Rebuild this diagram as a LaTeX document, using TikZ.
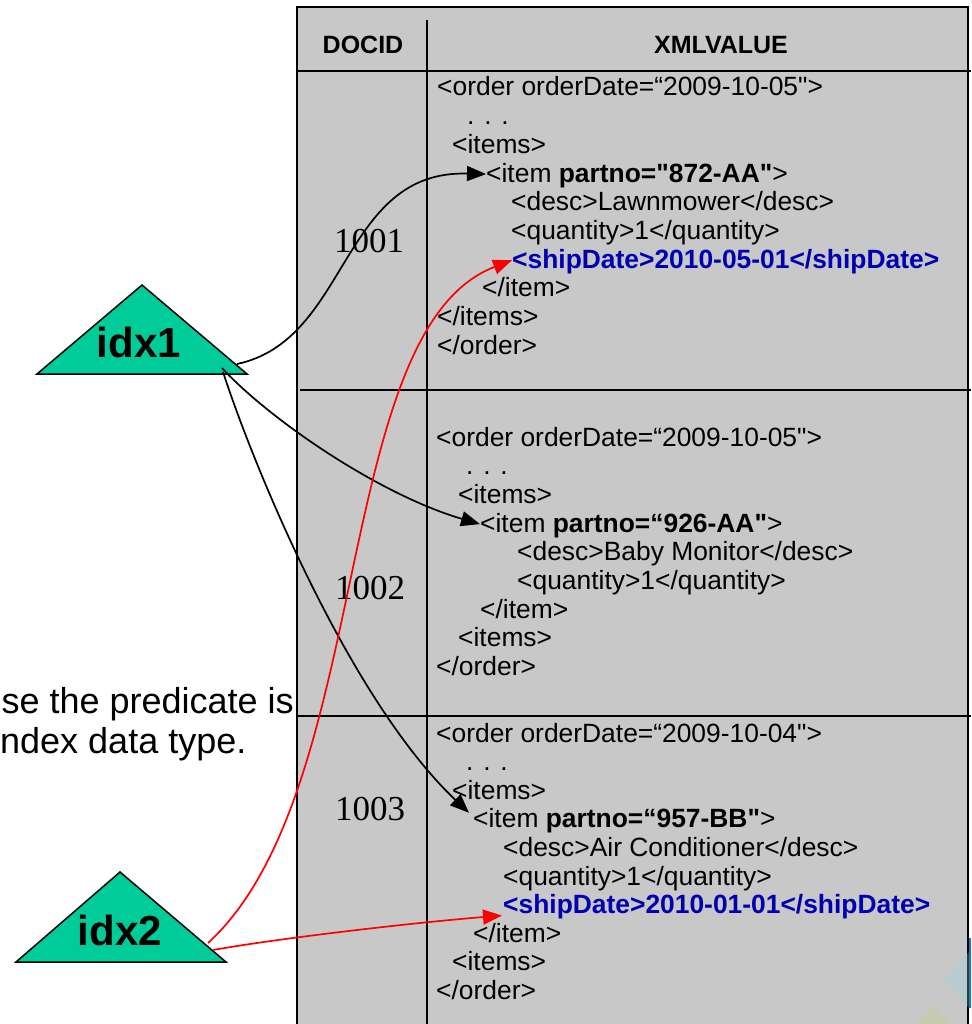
\documentclass[tikz,border=0pt]{standalone}
\usepackage{fontspec}
\setmainfont{Liberation Sans}
% plain family without TeX ligature mapping, so that " stays a straight quote
\newfontfamily\xmlfont{Liberation Sans}
\newfontfamily\numfont{Liberation Serif}
\usetikzlibrary{arrows.meta}
\definecolor{cellgray}{RGB}{200,200,200}
\definecolor{idxgreen}{RGB}{0,204,153}
\definecolor{shipblue}{RGB}{0,0,176}
\definecolor{decoblue}{RGB}{30,120,190}
\definecolor{decocyan}{RGB}{150,210,225}
\definecolor{decogreen}{RGB}{190,210,120}

\begin{document}
\begin{tikzpicture}[x=1pt,y=-1pt,
  xml/.style={anchor=west, inner sep=0pt, text height=20pt, text depth=4pt,
              font=\fontsize{26.4pt}{30pt}\xmlfont},
  ship/.style={xml, text=shipblue, font=\fontsize{26.4pt}{30pt}\xmlfont\bfseries},
  head/.style={inner sep=0pt, font=\fontsize{25pt}{30pt}\selectfont\bfseries},
  docid/.style={inner sep=0pt, anchor=base, font=\fontsize{35pt}{40pt}\numfont},
  idxlabel/.style={inner sep=0pt, anchor=base, font=\fontsize{42pt}{48pt}\selectfont\bfseries},
  note/.style={inner sep=0pt, font=\fontsize{36pt}{43pt}\selectfont},
  idxtri/.style={fill=idxgreen, draw=black, line width=1.5pt, line join=miter},
  rule/.style={line width=1.6pt},
  link/.style={line width=1.7pt, -{Triangle[length=19pt,width=15pt]}},
  blacklink/.style={link, draw=black},
  redlink/.style={link, draw=red}]

\useasboundingbox (0,0) rectangle (971,1024);
\clip (0,0) rectangle (971,1024);

% ---- table body and grid ----
\fill[cellgray] (297,7) rectangle (968,1030);
\draw[rule] (297,1030) -- (297,7) -- (968,7) -- (968,1030);
\draw[rule] (427,20) -- (427,1030);
\draw[rule] (297,71) -- (971,71);
\draw[rule] (300,390) -- (971,390);
\draw[rule] (297,716) -- (971,716);

% slide corner ornaments
\fill[decocyan, opacity=0.3] (943,980) -- (971,950) -- (999,980) -- (971,1010) -- cycle;
\fill[decogreen, opacity=0.3] (933,1004) -- (955,1030) -- (911,1030) -- cycle;
\fill[decoblue] (968.5,938) rectangle (971,1008);

% ---- header ----
\node[head] (hdoc) at (363,45) {DOCID};
\node[head] (hxml) at (721,45) {XMLVALUE};

% ---- document ids ----
\node[docid] (d1) at (369,252) {1001};
\node[docid] (d2) at (370,599) {1002};
\node[docid] (d3) at (370,820) {1003};

% ---- row 1001 ----
\node[xml] (r1order) at (437,88)    {<order orderDate=“2009-10-05">};
\node[xml] (r1dots)  at (467,116.7) {. . .};
\node[xml] (r1items) at (452,145.4) {<items>};
\node[xml] (r1item)  at (486,174.1) {<item {\bfseries partno="872-AA"}>};
\node[xml] (r1desc)  at (511,202.8) {<desc>Lawnmower</desc>};
\node[xml] (r1qty)   at (511,231.5) {<quantity>1</quantity>};
\node[ship] (r1ship) at (512,260.2) {<shipDate>2010-05-01</shipDate>};
\node[xml] (r1eitem) at (482,288.9) {</item>};
\node[xml] (r1eitems) at (437,317.6) {</items>};
\node[xml] (r1eorder) at (437,346.3) {</order>};

% ---- row 1002 ----
\node[xml] (r2order) at (436,438)   {<order orderDate=“2009-10-05">};
\node[xml] (r2dots)  at (466,466.7) {. . .};
\node[xml] (r2items) at (458,495.4) {<items>};
\node[xml] (r2item)  at (480,524.1) {<item {\bfseries partno=“926-AA"}>};
\node[xml] (r2desc)  at (517,552.8) {<desc>Baby Monitor</desc>};
\node[xml] (r2qty)   at (517,581.5) {<quantity>1</quantity>};
\node[xml] (r2eitem) at (480,610.2) {</item>};
\node[xml] (r2eitems) at (458,638.9) {<items>};
\node[xml] (r2eorder) at (436,667.6) {</order>};

% ---- row 1003 ----
\node[xml] (r3order) at (436,734)   {<order orderDate=“2009-10-04">};
\node[xml] (r3dots)  at (466,762.6) {. . .};
\node[xml] (r3items) at (452,791.2) {<items>};
\node[xml] (r3item)  at (473,819.8) {<item {\bfseries partno=“957-BB"}>};
\node[xml] (r3desc)  at (503,848.4) {<desc>Air Conditioner</desc>};
\node[xml] (r3qty)   at (503,877)   {<quantity>1</quantity>};
\node[ship] (r3ship) at (503,905.6) {<shipDate>2010-01-01</shipDate>};
\node[xml] (r3eitem) at (473,934.2) {</item>};
\node[xml] (r3eitems) at (452,962.8) {<items>};
\node[xml] (r3eorder) at (436,991.4) {</order>};

% ---- side note ----
\node[note, anchor=base east] (note1) at (294,713) {se the predicate is};
\node[note, anchor=base west] (note2) at (0,753) {ndex data type.};

% ---- index triangles ----
\draw[idxtri] (37,374) -- (142,285) -- (247,374) -- cycle;
\node[idxlabel] (idx1) at (139,357) {idx1};
\draw[idxtri] (16,962) -- (120,872) -- (226,962) -- cycle;
\node[idxlabel] (idx2) at (120,945) {idx2};

\coordinate (i1a) at (237,364);
\coordinate (i1b) at (222,368);
\coordinate (i1c) at (223,372);
\coordinate (i2a) at (208,943);
\coordinate (i2b) at (213,950);

% ---- index entries pointing into the documents ----
\draw[blacklink] (i1a) .. controls (350,340) and (340,170) .. (r1item.west);
\draw[blacklink] (i1b) .. controls (270,420) and (380,495) .. (r2item.west);
\draw[blacklink] (i1c) .. controls (255,470) and (350,700) .. ([shift={(-4,-7)}]r3item.west);
\draw[redlink] (i2a) .. controls (375,790) and (330,330) .. (r1ship.west);
\draw[redlink] (i2b) .. controls (280,938) and (420,922) .. ([shift={(-1,10)}]r3ship.west);
\end{tikzpicture}
\end{document}
